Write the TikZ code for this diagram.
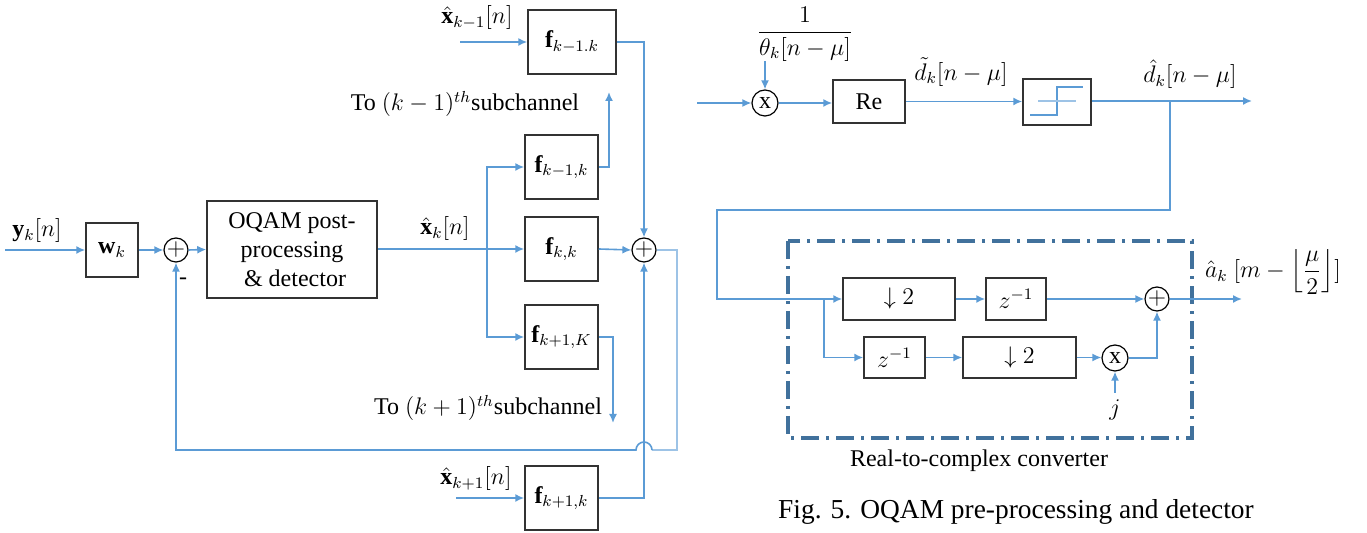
\documentclass[tikz,border=0pt,12pt]{standalone}
\usepackage{fontspec}
\setmainfont{Liberation Serif}
\usepackage{amsmath}
\usetikzlibrary{arrows.meta,calc}
\definecolor{sigblue}{HTML}{5B9BD5}
\definecolor{lightblue}{HTML}{9DC3E6}
\definecolor{ddblue}{HTML}{41719C}
\definecolor{boxgray}{HTML}{333333}
\tikzset{
  blk/.style={draw=boxgray, line width=0.75pt, inner sep=0pt, align=center},
  fbox/.style={blk, minimum width=36.5pt, minimum height=32pt},
  sumc/.style={draw=black, line width=0.6pt, circle, inner sep=0pt, minimum size=10pt},
  sig/.style={draw=sigblue, line width=0.8pt, -{Latex[length=4.5pt,width=4pt]}},
  wire/.style={draw=sigblue, line width=0.8pt},
  fbwire/.style={draw=lightblue, line width=0.8pt},
  lbl/.style={inner sep=0pt},
  ddbox/.style={draw=ddblue, line width=2pt, dash pattern=on 9pt off 3.5pt on 1.5pt off 3.5pt}
}
\begin{document}
\begin{tikzpicture}[x=0.5pt,y=-0.5pt]
\useasboundingbox (0,0) rectangle (1367,533);

% ---------- left part ----------
\node[blk, minimum width=26pt, minimum height=27pt] (wk) at (112,250) {$\mathbf{w}_k$};
\node[sumc] (sum1) at (176,250) {$+$};
\node[blk, minimum width=85pt, minimum height=48.5pt] (oqam) at (292,249.5) {OQAM post-\\processing\\\ \& detector};
\node[blk, minimum width=44pt, minimum height=32pt] (ftop) at (572,42) {$\mathbf{f}_{k-1.k}$};
\node[fbox] (fkm) at (561.5,167) {$\mathbf{f}_{k-1,k}$};
\node[fbox] (fkk) at (561.5,249) {$\mathbf{f}_{k,k}$};
\node[fbox] (fkp) at (561.5,337) {$\mathbf{f}_{k+1,K}$};
\node[fbox] (fbot) at (561.5,498) {$\mathbf{f}_{k+1,k}$};
\node[sumc, minimum size=11pt] (sum2) at (644,250) {$+$};

\node[lbl] (ylab) at (37,231) {$\mathbf{y}_k[n]$};
\node[lbl] (minus) at (183,281) {-};
\node[lbl] (xklab) at (445,229) {$\hat{\mathbf{x}}_k[n]$};
\node[lbl] (xkm1lab) at (477,18) {$\hat{\mathbf{x}}_{k-1}[n]$};
\node[lbl] (xkp1lab) at (476,479) {$\hat{\mathbf{x}}_{k+1}[n]$};
\node[lbl] (tom) at (465,104) {To $(k-1)^{th}$subchannel};
\node[lbl] (top) at (488,408) {To $(k+1)^{th}$subchannel};

\coordinate (in1) at (5,250);
\draw[sig] (in1) -- (wk.west);
\draw[sig] (wk.east) -- (sum1.west);
\draw[sig] (sum1.east) -- (oqam.west);
\draw[sig] (oqam.east |- fkk.west) -- (fkk.west);
\coordinate (br) at (487,249);
\draw[sig] (br) |- (fkm.west);
\draw[sig] (br) |- (fkp.west);
\coordinate (intop) at (460,42);
\draw[sig] (intop) -- (ftop.west);
\draw[sig] (ftop.east) -| (sum2.north);
\draw[sig] (fkk.east) -- (sum2.west);
\coordinate (inbot) at (456,498);
\draw[sig] (inbot) -- (fbot.west);
\draw[sig] (fbot.east) -| (sum2.south);
\coordinate (outm) at (609,92);
\draw[sig] (fkm.east) -| (outm);
\coordinate (outp) at (613,423);
\draw[sig] (fkp.east) -| (outp);
% feedback
\coordinate (fbr) at (677,450);
\coordinate (hopR) at (652,450);
\draw[fbwire] (sum2.east) -| (fbr) -- (hopR);
\draw[sig] (hopR) arc[start angle=0,end angle=180,radius=4pt] -- (sum1.south |- hopR) -- (sum1.south);

% ---------- right part ----------
\node[sumc, minimum size=13pt] (mul1) at (765,103) {x};
\node[lbl] (frac) at (805,34) {$\dfrac{1}{\theta_k[n-\mu]}$};
\node[blk, minimum width=36pt, minimum height=21.5pt] (re) at (869,101.5) {Re};
\node[blk, minimum width=34pt, minimum height=23pt] (thr) at (1057,102) {};
\draw[sigblue, line width=0.6pt] (1030,115) -- (1057,115) -- (1057,87) -- (1083,87);
\draw[lightblue, line width=0.6pt] (1038,101) -- (1076,101);
\node[lbl] (dtl) at (961,72) {$\tilde{d}_k[n-\mu]$};
\node[lbl] (dhl) at (1190,74) {$\hat{d}_k[n-\mu]$};

\coordinate (in2) at (697,103);
\draw[sig] (in2) -- (mul1.west);
\draw[sig] (mul1 |- frac.south) -- (mul1.north);
\draw[sig] (mul1.east) -- (mul1.east -| re.west);
\draw[sig] (re.east) -- (re.east -| thr.west);
\coordinate (out1) at (1252,101);
\draw[sig] (thr.east |- out1) -- (out1);

% real-to-complex converter
\draw[ddbox] (788,241) rectangle (1192,438);
\node[blk, minimum width=56pt, minimum height=21pt] (d2a) at (899,299) {$\downarrow 2$};
\node[blk, minimum width=30pt, minimum height=21pt] (z1a) at (1016,299) {$z^{-1}$};
\node[blk, minimum width=30.5pt, minimum height=20.5pt] (z1b) at (894.5,357.5) {$z^{-1}$};
\node[blk, minimum width=56.5pt, minimum height=20.5pt] (d2b) at (1019.5,357.5) {$\downarrow 2$};
\node[sumc, minimum size=13pt] (mul2) at (1115,358) {x};
\node[sumc] (sum3) at (1157,299) {$+$};
\node[lbl] (jl) at (1115,410) {$j$};
\node[lbl] (rtc) at (979,461) {Real-to-complex converter};
\node[lbl] (al) at (1273,272) {$\hat{a}_k\ [m-\left\lfloor\dfrac{\mu}{2}\right\rfloor]$};
\node[lbl, font=\fontsize{13.7}{16}\selectfont] (cap) at (1016,512) {Fig. 5. OQAM pre-processing and detector};

\coordinate (tap) at (1170,101);
\coordinate (c1) at (1170,210);
\coordinate (c2) at (717,210);
\draw[sig] (tap) -- (c1) -- (c2) |- (d2a.west);
\coordinate (br2) at (824,299);
\draw[sig] (br2) |- (z1b.west);
\draw[sig] (d2a.east) -- (z1a.west);
\draw[sig] (z1a.east) -- (sum3.west);
\draw[sig] (z1b.east) -- (z1b.east -| d2b.west);
\draw[sig] (d2b.east) -- (d2b.east -| mul2.west);
\draw[sig] (mul2.east) -| (sum3.south);
\coordinate (jin) at (1115,393);
\draw[sig] (jin) -- (mul2.south);
\coordinate (out2) at (1242,299);
\draw[sig] (sum3.east) -- (out2);
\end{tikzpicture}
\end{document}
